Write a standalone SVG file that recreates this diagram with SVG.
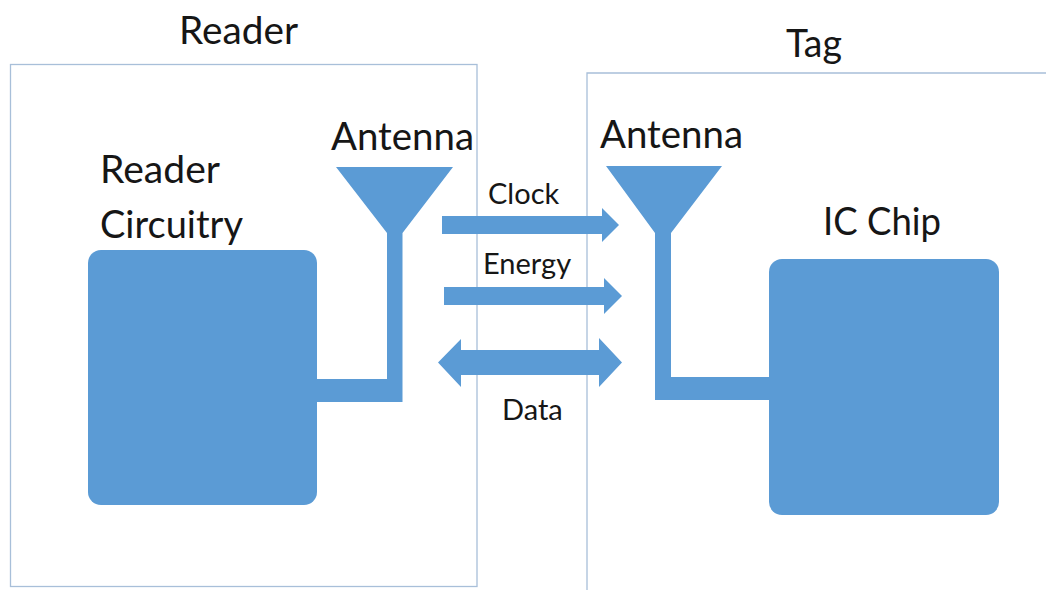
<svg xmlns="http://www.w3.org/2000/svg" width="1046" height="590" viewBox="0 0 1046 590">
<style>
.f{fill:#5b9bd5}
.b{fill:#fff;stroke:#a8bfd9;stroke-width:1.3}
.n{fill:none;stroke:#a8bfd9;stroke-width:1.3}
text{font-family:"Lato","Open Sans",sans-serif;fill:#161616}
.l{font-size:38.500px}
.s{font-size:29px}
</style>
<rect width="1046" height="590" fill="#fff"/>
<g id="reader">
<rect class="b" x="10.500" y="64.500" width="466.500" height="522"/>
<text class="l" x="179" y="44" textLength="119" lengthAdjust="spacingAndGlyphs">Reader</text>
</g>
<g id="tag">
<path class="n" d="M587 590V73H1046"/>
<text class="l" x="786" y="57" textLength="56" lengthAdjust="spacingAndGlyphs">Tag</text>
</g>
<g id="reader-circuitry">
<rect class="f" x="88" y="250" width="229" height="255" rx="13"/>
<text class="l" x="100" y="183" textLength="120" lengthAdjust="spacingAndGlyphs">Reader</text>
<text class="l" x="100" y="238" textLength="143" lengthAdjust="spacingAndGlyphs">Circuitry</text>
</g>
<g id="reader-antenna">
<path class="f" d="M336 167H453L402.500 233V402H317V379H387V233Z"/>
<text class="l" x="331" y="150" textLength="143" lengthAdjust="spacingAndGlyphs">Antenna</text>
</g>
<g id="tag-antenna">
<path class="f" d="M606 166H722L671 233V377H770V400H655V233Z"/>
<text class="l" x="600" y="148" textLength="143" lengthAdjust="spacingAndGlyphs">Antenna</text>
</g>
<g id="ic-chip">
<rect class="f" x="769" y="259" width="230" height="256" rx="13"/>
<text class="l" x="823" y="235" textLength="118" lengthAdjust="spacingAndGlyphs">IC Chip</text>
</g>
<g id="connectors">
<path class="f" d="M442 216H602V208L619 225L602 242V234H442Z"/>
<path class="f" d="M444 287H604V278L622 296L604 314V305H444Z"/>
<path class="f" d="M438 362.500L461 339V350H599V338L622 362.500L599 387V375H461V387Z"/>
</g>
<g id="labels">
<text class="s" x="488" y="204">Clock</text>
<text class="s" x="483" y="274">Energy</text>
<text class="s" x="502" y="420">Data</text>
</g>
</svg>
